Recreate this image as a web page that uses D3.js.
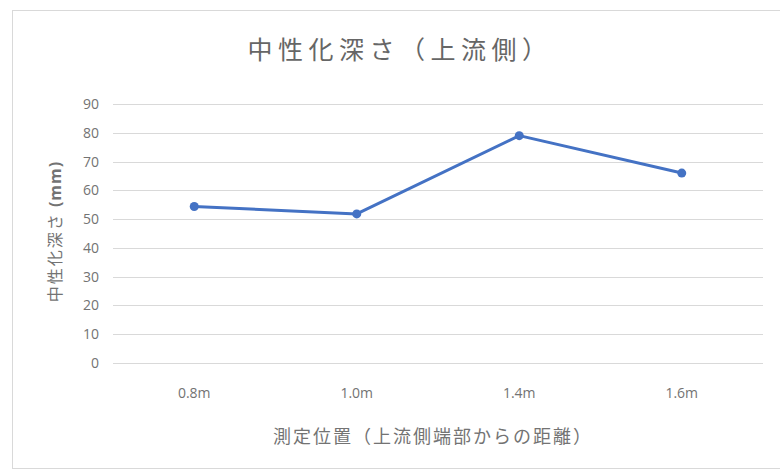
<!DOCTYPE html>
<html>
<head>
<meta charset="utf-8">
<script src="https://cdn.jsdelivr.net/npm/d3@7"></script>
<style>
  html, body { margin: 0; padding: 0; background: #fff; }
  svg { display: block; font-family: "Noto Sans CJK JP", "Noto Sans", sans-serif; }
</style>
</head>
<body>
<svg id="chart" width="780" height="475"></svg>
<script>
// Measurement positions (distance from upstream end) and carbonation depth in mm
const positions = ["0.8m", "1.0m", "1.4m", "1.6m"];
const depths = [54.4, 51.8, 79.0, 66.0];
const yTicks = [0, 10, 20, 30, 40, 50, 60, 70, 80, 90];

const titleText = "中性化深さ（上流側）";
const xTitleText = "測定位置（上流側端部からの距離）";
const yTitleMain = "中性化深さ";
const yTitleUnit = " (mm)";

const svg = d3.select("#chart");
const W = 780, H = 475;
const margin = { left: 113, right: 17, top: 104, bottom: 112 };

// Outer chart frame
svg.append("rect")
  .attr("x", 12.5).attr("y", 10.5)
  .attr("width", W - 12).attr("height", 458)
  .attr("fill", "#fff").attr("stroke", "#d9d9d9").attr("stroke-width", 1);

const x = d3.scaleBand()
  .domain(positions)
  .range([margin.left, W - margin.right]);

const y = d3.scaleLinear()
  .domain([0, 90])
  .range([H - margin.bottom, margin.top]);

// Horizontal gridlines
svg.append("g")
  .selectAll("line")
  .data(yTicks)
  .join("line")
  .attr("x1", margin.left).attr("x2", W - margin.right)
  .attr("y1", d => Math.round(y(d)) + 0.5)
  .attr("y2", d => Math.round(y(d)) + 0.5)
  .attr("stroke", "#d9d9d9").attr("stroke-width", 1);

// Y axis tick labels
const yAxis = d3.axisLeft(y).tickValues(yTicks).tickSize(0).tickPadding(14);
svg.append("g")
  .attr("transform", `translate(${margin.left},0)`)
  .call(yAxis)
  .call(g => g.select(".domain").remove())
  .call(g => g.selectAll("text")
    .attr("fill", "#737373")
    .style("font-family", "'Open Sans', 'Noto Sans', sans-serif")
    .style("font-size", "14px"));

// X axis category labels
const xAxis = d3.axisBottom(x).tickSize(0).tickPadding(25);
svg.append("g")
  .attr("transform", `translate(0,${y(0)})`)
  .call(xAxis)
  .call(g => g.select(".domain").remove())
  .call(g => g.selectAll("text")
    .attr("fill", "#737373")
    .style("font-family", "'Open Sans', 'Noto Sans', sans-serif")
    .style("font-size", "14px"));

// Data line and markers
const cx = (d, i) => x(positions[i]) + x.bandwidth() / 2;
const line = d3.line().x(cx).y(d => y(d));

svg.append("path")
  .datum(depths)
  .attr("d", line)
  .attr("fill", "none")
  .attr("stroke", "#4472c4")
  .attr("stroke-width", 3)
  .attr("stroke-linejoin", "round");

svg.append("g")
  .selectAll("circle")
  .data(depths)
  .join("circle")
  .attr("cx", cx)
  .attr("cy", d => y(d))
  .attr("r", 4.5)
  .attr("fill", "#4472c4");

// Chart title
svg.append("text")
  .attr("x", 400).attr("y", 59)
  .attr("text-anchor", "middle")
  .attr("fill", "#666666")
  .style("font-size", "25px")
  .style("letter-spacing", "5.5px")
  .text(titleText);

// X axis title
svg.append("text")
  .attr("x", 433).attr("y", 443)
  .attr("text-anchor", "middle")
  .attr("fill", "#737373")
  .style("font-size", "18px")
  .style("letter-spacing", "2px")
  .text(xTitleText);

// Y axis title: label with bold unit
const yTitle = svg.append("text")
  .attr("transform", `translate(61,${y(45) - 2}) rotate(-90)`)
  .attr("text-anchor", "middle")
  .attr("fill", "#737373")
  .style("font-size", "16px")
  .style("letter-spacing", "2px");
yTitle.append("tspan").text(yTitleMain);
yTitle.append("tspan")
  .style("font-family", "'Open Sans', 'Noto Sans', sans-serif")
  .style("font-weight", "bold")
  .style("letter-spacing", "1px")
  .text(yTitleUnit);
</script>
</body>
</html>
